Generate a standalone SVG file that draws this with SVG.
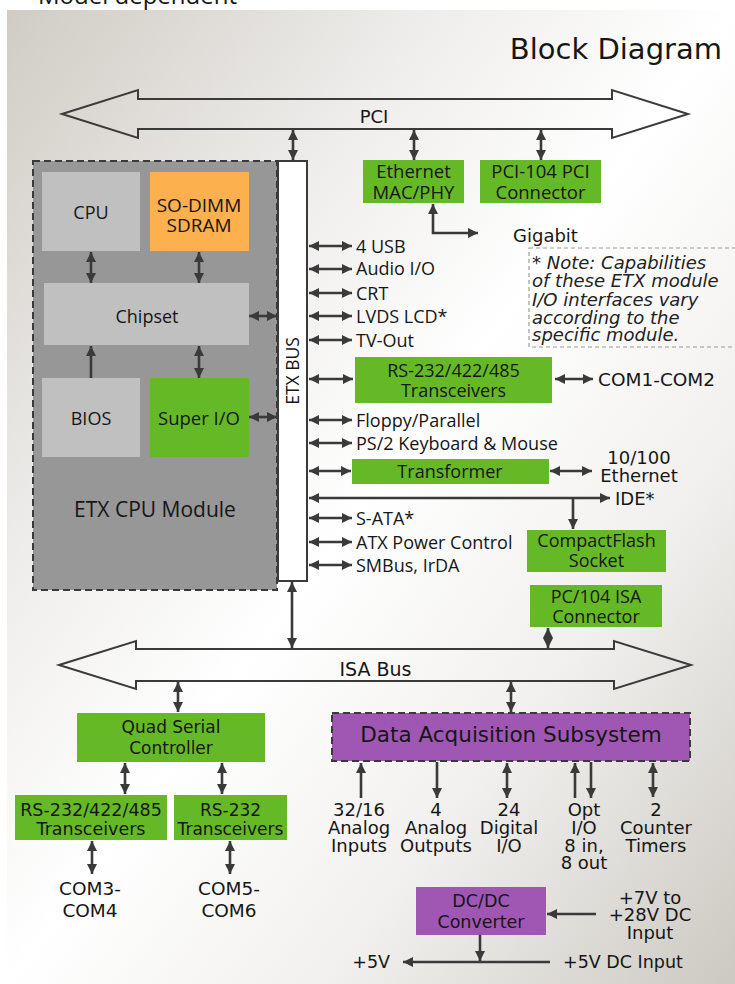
<svg xmlns="http://www.w3.org/2000/svg" width="735" height="984" viewBox="0 0 735 984">
<defs>
<linearGradient id="bg" x1="0" y1="0" x2="1" y2="1">
<stop offset="0" stop-color="#d0ccc5"/>
<stop offset="0.3" stop-color="#efeeec"/>
<stop offset="0.5" stop-color="#ffffff"/>
<stop offset="0.72" stop-color="#f1f0ee"/>
<stop offset="1" stop-color="#ccc9c2"/>
</linearGradient>
<marker id="ah" viewBox="0 0 10 10" refX="10" refY="5" markerWidth="10" markerHeight="10" markerUnits="userSpaceOnUse" orient="auto-start-reverse">
<path d="M0,0L10,5L0,10z" fill="#3a3a3a"/>
</marker>
</defs>
<style>
.os{font-family:"Open Sans","DejaVu Sans",sans-serif;fill:#161616}
.dv{font-family:"DejaVu Sans",sans-serif;fill:#161616}
.it{font-family:"DejaVu Sans",sans-serif;font-style:italic;fill:#222}
.c{text-anchor:middle}
.e{text-anchor:end}
.gr{fill:#66b926}
.gy{fill:#c0c0c0}
.pu{fill:#9f57b3}
.or{fill:#fdb04e}
.cn line,.cn path{stroke:#3a3a3a;stroke-width:2.6;fill:none}
.b{marker-start:url(#ah);marker-end:url(#ah)}
.en{marker-end:url(#ah)}
.bus{fill:none;stroke:#3a3a3a;stroke-width:2}
</style>
<text class="os" x="38" y="4" font-size="24">Model dependent</text>
<rect x="7" y="10" width="728" height="974" fill="url(#bg)"/>
<text class="dv e" x="722" y="59" font-size="29">Block Diagram</text>

<g id="pci-bus">
<polygon class="bus" points="62,114 138,90 138,99 612,99 612,90 688,114 612,138 612,129 138,129 138,138"/>
<text class="dv c" x="374" y="123" font-size="18">PCI</text>
</g>

<g id="etx-module">
<rect x="33" y="161" width="244" height="429" fill="#979797" stroke="#3a3a3a" stroke-width="2" stroke-dasharray="7 4"/>
<text class="os c" x="155" y="517" font-size="21">ETX CPU Module</text>
</g>
<g id="cpu"><rect class="gy" x="42" y="172" width="98" height="79"/><text class="os c" x="91" y="218.5" font-size="18">CPU</text></g>
<g id="sdram"><rect class="or" x="150" y="172" width="99" height="79"/><text class="os c" x="199" y="211.5" font-size="19"><tspan x="199">SO-DIMM</tspan><tspan x="199" dy="20.5">SDRAM</tspan></text></g>
<g id="chipset"><rect class="gy" x="44" y="283" width="205" height="62"/><text class="os c" x="147" y="323" font-size="18">Chipset</text></g>
<g id="bios"><rect class="gy" x="42" y="378" width="98" height="79"/><text class="os c" x="91" y="424.5" font-size="18">BIOS</text></g>
<g id="superio"><rect class="gr" x="150" y="378" width="99" height="79"/><text class="os c" x="199" y="424.5" font-size="18.5">Super I/O</text></g>

<g id="etx-bus">
<rect x="278" y="161" width="29" height="420" fill="#fff" stroke="#3a3a3a" stroke-width="2"/>
<text class="os c" transform="translate(298.5,371) rotate(-90)" font-size="17.5">ETX BUS</text>
</g>

<g id="ethernet"><rect class="gr" x="363" y="160" width="101" height="43"/><text class="os c" x="413.5" y="177.5" font-size="18.5"><tspan x="413.5">Ethernet</tspan><tspan x="413.5" dy="21">MAC/PHY</tspan></text></g>
<g id="pci104"><rect class="gr" x="480" y="160" width="121" height="43"/><text class="os c" x="540.5" y="177.5" font-size="18.5"><tspan x="540.5">PCI-104 PCI</tspan><tspan x="540.5" dy="21">Connector</tspan></text></g>
<g id="gigabit"><text class="dv" x="513" y="241.5" font-size="18">Gigabit</text></g>

<g id="note">
<rect x="529" y="248" width="220" height="99" fill="none" stroke="#9a9a9a" stroke-width="1.2" stroke-dasharray="4 3"/>
<text class="it" x="532" y="269" font-size="18"><tspan x="532">* Note: Capabilities</tspan><tspan x="532" dy="18">of these ETX module</tspan><tspan x="532" dy="18.5">I/O interfaces vary</tspan><tspan x="532" dy="18.5">according to the</tspan><tspan x="532" dy="17">specific module.</tspan></text>
</g>

<g id="io-list">
<text class="os" x="356" y="252.5" font-size="18">4 USB</text>
<text class="os" x="356" y="274.5" font-size="18">Audio I/O</text>
<text class="os" x="356" y="299.5" font-size="18">CRT</text>
<text class="os" x="356" y="322.5" font-size="18">LVDS LCD*</text>
<text class="os" x="356" y="346.5" font-size="18">TV-Out</text>
<text class="os" x="356" y="426.5" font-size="18">Floppy/Parallel</text>
<text class="os" x="356" y="449.5" font-size="18">PS/2 Keyboard &amp; Mouse</text>
<text class="os" x="356" y="524.5" font-size="18">S-ATA*</text>
<text class="os" x="356" y="548.5" font-size="18">ATX Power Control</text>
<text class="os" x="356" y="571.5" font-size="18">SMBus, IrDA</text>
</g>

<g id="rs-top"><rect class="gr" x="355" y="357" width="197" height="46"/><text class="os c" x="453.5" y="376.5" font-size="18"><tspan x="453.5">RS-232/422/485</tspan><tspan x="453.5" dy="20">Transceivers</tspan></text></g>
<g id="com12"><text class="dv" x="598" y="385.5" font-size="18.5">COM1-COM2</text></g>
<g id="transformer"><rect class="gr" x="352" y="459" width="197" height="25"/><text class="os c" x="450" y="477.5" font-size="18">Transformer</text></g>
<g id="eth100"><text class="dv c" x="639" y="464" font-size="18"><tspan x="639">10/100</tspan><tspan x="639" dy="17.5">Ethernet</tspan></text></g>
<g id="ide"><text class="dv" x="615" y="504.5" font-size="18">IDE*</text></g>
<g id="compactflash"><rect class="gr" x="527" y="530" width="139" height="42"/><text class="os c" x="596.5" y="546.5" font-size="18"><tspan x="596.5">CompactFlash</tspan><tspan x="596.5" dy="20.5">Socket</tspan></text></g>
<g id="pc104isa"><rect class="gr" x="530" y="585" width="132" height="42"/><text class="os c" x="596" y="602.5" font-size="18"><tspan x="596">PC/104 ISA</tspan><tspan x="596" dy="20.5">Connector</tspan></text></g>

<g id="isa-bus">
<polygon class="bus" points="59,665 136,641 136,649 614,649 614,641 691,665 614,689 614,681 136,681 136,689"/>
<text class="dv c" x="375.5" y="675.5" font-size="19">ISA Bus</text>
</g>

<g id="quad"><rect class="gr" x="77" y="713" width="188" height="49"/><text class="dv c" x="171" y="732.5" font-size="17"><tspan x="171">Quad Serial</tspan><tspan x="171" dy="21">Controller</tspan></text></g>
<g id="rs-bottom"><rect class="gr" x="15" y="795" width="152" height="45"/><text class="dv c" x="91" y="815.5" font-size="17.5"><tspan x="91">RS-232/422/485</tspan><tspan x="91" dy="19">Transceivers</tspan></text></g>
<g id="rs232"><rect class="gr" x="174" y="795" width="113" height="45"/><text class="dv c" x="230.5" y="815.5" font-size="17"><tspan x="230.5">RS-232</tspan><tspan x="230.5" dy="19">Transceivers</tspan></text></g>
<g id="com34"><text class="dv c" x="90" y="895" font-size="18.5"><tspan x="90">COM3-</tspan><tspan x="90" dy="22">COM4</tspan></text></g>
<g id="com56"><text class="dv c" x="229" y="895" font-size="18.5"><tspan x="229">COM5-</tspan><tspan x="229" dy="22">COM6</tspan></text></g>

<g id="daq"><rect class="pu" x="332" y="713" width="358" height="48" stroke="#3a3a3a" stroke-width="2" stroke-dasharray="7 4"/><text class="dv c" x="511" y="742" font-size="21.5">Data Acquisition Subsystem</text></g>
<g id="daq-labels">
<text class="dv c" x="359" y="815.5" font-size="18"><tspan x="359">32/16</tspan><tspan x="359" dy="18">Analog</tspan><tspan x="359" dy="18">Inputs</tspan></text>
<text class="dv c" x="436" y="815.5" font-size="18"><tspan x="436">4</tspan><tspan x="436" dy="18">Analog</tspan><tspan x="436" dy="18">Outputs</tspan></text>
<text class="dv c" x="509" y="815.5" font-size="18"><tspan x="509">24</tspan><tspan x="509" dy="18">Digital</tspan><tspan x="509" dy="18">I/O</tspan></text>
<text class="dv c" x="584" y="815.5" font-size="18"><tspan x="584">Opt</tspan><tspan x="584" dy="18">I/O</tspan><tspan x="584" dy="18">8 in,</tspan><tspan x="584" dy="17">8 out</tspan></text>
<text class="dv c" x="656" y="815.5" font-size="18"><tspan x="656">2</tspan><tspan x="656" dy="18">Counter</tspan><tspan x="656" dy="18">Timers</tspan></text>
</g>

<g id="dcdc"><rect class="pu" x="416" y="887" width="130" height="48"/><text class="dv c" x="481" y="906.5" font-size="17.5"><tspan x="481">DC/DC</tspan><tspan x="481" dy="21">Converter</tspan></text></g>
<g id="power-labels">
<text class="dv c" x="650" y="903.5" font-size="18"><tspan x="650">+7V to</tspan><tspan x="650" dy="17">+28V DC</tspan><tspan x="650" dy="18">Input</tspan></text>
<text class="dv" x="563" y="967.5" font-size="17.5">+5V DC Input</text>
<text class="dv e" x="390" y="968" font-size="17.5">+5V</text>
</g>

<g id="connectors" class="cn">
<line class="b" x1="293" y1="130" x2="293" y2="160"/>
<line class="b" x1="414" y1="130" x2="414" y2="160"/>
<line class="b" x1="541" y1="130" x2="541" y2="160"/>
<path class="b" d="M433,204V233H478"/>
<line class="b" x1="91" y1="252" x2="91" y2="283"/>
<line class="b" x1="199" y1="252" x2="199" y2="283"/>
<line class="en" x1="91" y1="378" x2="91" y2="346"/>
<line class="b" x1="199" y1="346" x2="199" y2="378"/>
<line class="b" x1="249" y1="316" x2="277" y2="316"/>
<line class="b" x1="249" y1="417" x2="277" y2="417"/>
<line class="b" x1="309" y1="246" x2="352" y2="246"/>
<line class="b" x1="309" y1="269" x2="352" y2="269"/>
<line class="b" x1="309" y1="293" x2="352" y2="293"/>
<line class="b" x1="309" y1="316" x2="352" y2="316"/>
<line class="b" x1="309" y1="340" x2="352" y2="340"/>
<line class="b" x1="309" y1="379" x2="353" y2="379"/>
<line class="b" x1="309" y1="420" x2="352" y2="420"/>
<line class="b" x1="309" y1="443" x2="352" y2="443"/>
<line class="b" x1="309" y1="471" x2="351" y2="471"/>
<line class="b" x1="309" y1="498" x2="610" y2="498"/>
<line class="en" x1="573" y1="498" x2="573" y2="529"/>
<line class="b" x1="309" y1="518" x2="352" y2="518"/>
<line class="b" x1="309" y1="542" x2="352" y2="542"/>
<line class="b" x1="309" y1="565" x2="352" y2="565"/>
<line class="b" x1="555" y1="379" x2="593" y2="379"/>
<line class="b" x1="550" y1="471" x2="592" y2="471"/>
<line class="b" x1="292" y1="582" x2="292" y2="648"/>
<line class="b" x1="548" y1="628" x2="548" y2="648"/>
<line class="b" x1="178" y1="682" x2="178" y2="712"/>
<line class="b" x1="511" y1="682" x2="511" y2="712"/>
<line class="b" x1="125" y1="763" x2="125" y2="794"/>
<line class="b" x1="222" y1="763" x2="222" y2="794"/>
<line class="b" x1="92" y1="841" x2="92" y2="874"/>
<line class="b" x1="230" y1="841" x2="230" y2="874"/>
<line class="en" x1="361" y1="798" x2="361" y2="763"/>
<line class="en" x1="437" y1="762" x2="437" y2="798"/>
<line class="b" x1="507" y1="763" x2="507" y2="798"/>
<line class="en" x1="575" y1="798" x2="575" y2="763"/>
<line class="en" x1="591" y1="762" x2="591" y2="798"/>
<line class="b" x1="653" y1="763" x2="653" y2="797"/>
<line class="en" x1="596" y1="914" x2="547" y2="914"/>
<line class="en" x1="480" y1="935" x2="480" y2="961"/>
<line class="en" x1="550" y1="962" x2="403" y2="962"/>
</g>
</svg>
